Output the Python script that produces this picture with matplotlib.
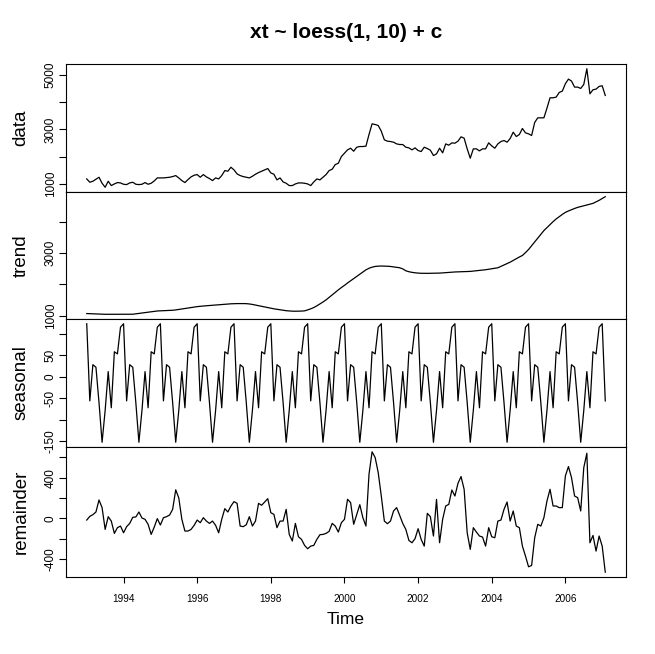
import numpy as np
import matplotlib
matplotlib.use("Agg")
import matplotlib.pyplot as plt

plt.rcParams['font.family'] = ['Liberation Sans', 'DejaVu Sans']

# monthly series, Jan 1993 .. Feb 2007
start_year = 1993
freq = 12

data = [1184, 1062, 1099, 1172, 1245, 1025, 878, 1099, 940, 1000,
        1050, 1037, 988, 976, 1037, 1062, 988, 976, 988, 1050,
        988, 1025, 1111, 1221, 1221, 1221, 1233, 1245, 1270, 1307,
        1221, 1123, 1050, 1160, 1258, 1319, 1343, 1245, 1343, 1258,
        1197, 1123, 1221, 1184, 1307, 1490, 1466, 1613, 1515, 1368,
        1307, 1270, 1245, 1221, 1282, 1356, 1417, 1466, 1515, 1564,
        1405, 1356, 1148, 1221, 1074, 1025, 940, 940, 1000, 1037,
        1037, 1025, 1000, 940, 1074, 1184, 1148, 1245, 1343, 1490,
        1540, 1711, 1760, 2005, 2128, 2250, 2311, 2201, 2348, 2373,
        2373, 2385, 2814, 3206, 3181, 3144, 2936, 2618, 2569, 2556,
        2532, 2470, 2446, 2446, 2348, 2323, 2250, 2323, 2226, 2189,
        2348, 2299, 2238, 2042, 2103, 2311, 2140, 2470, 2421, 2507,
        2495, 2569, 2728, 2679, 2287, 1944, 2287, 2287, 2213, 2287,
        2287, 2507, 2397, 2311, 2470, 2556, 2593, 2532, 2667, 2899,
        2740, 2814, 3034, 2875, 2838, 2777, 3255, 3426, 3426, 3426,
        3781, 4161, 4161, 4186, 4357, 4406, 4676, 4847, 4774, 4553,
        4553, 4504, 4651, 5227, 4308, 4455, 4480, 4578, 4602, 4247]

trend = [1064, 1060, 1055, 1050, 1045,
         1041, 1040, 1040, 1040, 1040, 1040, 1041, 1041, 1042, 1042, 1042,
         1055, 1068, 1080, 1095, 1108, 1120, 1133, 1146,
         1150, 1155, 1160, 1165, 1169,
         1180, 1195, 1210, 1223,
         1240, 1255, 1270, 1285, 1296,
         1305, 1313, 1320, 1330, 1337,
         1345, 1352, 1360, 1368, 1375, 1380,
         1382, 1383, 1382, 1380,
         1370, 1355, 1335, 1315, 1295, 1275,
         1255, 1235, 1215, 1200,
         1185, 1170, 1155, 1146,
         1140, 1138, 1140, 1143, 1150,
         1180, 1215, 1255,
         1310, 1370, 1433, 1500, 1580,
         1660, 1740, 1820, 1895, 1964,
         2040, 2110, 2180, 2250, 2320, 2390,
         2460, 2510, 2545, 2568,
         2578, 2582, 2580, 2575, 2568,
         2555, 2540, 2526, 2490, 2430,
         2400, 2380, 2366, 2356,
         2350, 2348, 2348, 2350, 2352, 2354, 2356,
         2362, 2370, 2378, 2386, 2392,
         2396, 2400, 2404, 2407, 2410,
         2420, 2430, 2442, 2453, 2463,
         2478, 2494, 2510, 2526,
         2570, 2615, 2660, 2705,
         2760, 2815, 2870, 2919,
         3010, 3110, 3230, 3350,
         3470, 3590, 3714, 3810,
         3910, 4000, 4086,
         4160, 4230, 4296,
         4340, 4380, 4420, 4455,
         4480, 4505, 4530, 4555, 4583,
         4630, 4680, 4740, 4796]

# periodic seasonal component, Jan..Dec
seasonal_pattern = [123, -56, 28, 22, -60, -152, -78, 12, -72, 58, 53, 115]

remainder = [-17, 19, 36, 62, 180, 105, -109, 16, -27, -148,
             -92, -76, -142, -82, -50, 10, 13, 62, 3, -10,
             -59, -158, -86, -3, -66, 6, 16, 32, 88, 280,
             200, -10, -125, -125, -109, -69, -17, -43, 6, -27,
             -50, -27, -69, -142, -10, 95, 62, 121, 164, 147,
             -76, -82, -63, 16, -76, -27, 147, 128, 160, 193,
             55, 39, -92, -27, -27, 88, -158, -223, -50, -181,
             -207, -266, -299, -273, -266, -207, -161, -158, -148, -128,
             -50, -76, -135, -43, -10, 187, 154, -59, 39, 134,
             6, -76, 433, 653, 597, 449, 219, -27, -53, -27,
             72, 105, 29, -50, -109, -217, -240, -200, -102, -207,
             -273, 49, 16, -174, 186, -240, -10, 121, 137, 278,
             219, 344, 410, 285, -142, -305, -92, -135, -174, -184,
             -273, -92, -181, -191, -27, -17, 88, 160, -27, 72,
             -76, -92, -273, -371, -476, -463, -191, -59, -76, 6,
             170, 285, 121, 121, 105, 105, 416, 508, 400, 219,
             203, 72, 498, 639, -240, -168, -322, -174, -273, -529]

n = len(data)
assert len(trend) == n and len(remainder) == n
seasonal = np.resize(seasonal_pattern, n)
t = start_year + np.arange(n) / freq

panel_names = ['data', 'trend', 'seasonal', 'remainder']
panel_values = [data, trend, seasonal, remainder]
panel_ticks = [[1000, 2000, 3000, 4000, 5000],
               [1000, 2000, 3000, 4000],
               [-150, -100, -50, 0, 50, 100],
               [-400, -200, 0, 200, 400, 600]]
panel_ticklabels = [['1000', '', '3000', '', '5000'],
                    ['1000', '', '3000', ''],
                    ['-150', '', '-50', '0', '50', ''],
                    ['-400', '', '0', '', '400', '']]
year_ticks = [1994, 1996, 1998, 2000, 2002, 2004, 2006]

W, H = 655, 654
fig = plt.figure(figsize=(W / 100, H / 100), dpi=100)

left, right = 66, 626
tops = [64, 192, 319, 447]
bottoms = [192, 319, 447, 577]

for k in range(4):
    ax = fig.add_axes([left / W, 1 - bottoms[k] / H,
                       (right - left) / W, (bottoms[k] - tops[k]) / H])
    ax.plot(t, panel_values[k], color='black', lw=0.9)
    ax.margins(x=0.04, y=0.04)
    for sp in ax.spines.values():
        sp.set_linewidth(0.8)
    ax.set_yticks(panel_ticks[k])
    ax.set_yticklabels(panel_ticklabels[k], rotation=90, va='center',
                       fontsize=8.5)
    ax.tick_params(axis='y', direction='out', length=5, width=0.8, pad=1.5)
    if k < 3:
        ax.set_xticks([])
    else:
        ax.set_xticks(year_ticks)
        ax.set_xticklabels([str(y) for y in year_ticks], fontsize=7.2)
        ax.tick_params(axis='x', direction='out', length=4.5, width=0.8,
                       pad=7.5)
    yc = 1 - (tops[k] + bottoms[k]) / 2 / H
    fig.text(21 / W, yc, panel_names[k], rotation=90, ha='center',
             va='center', fontsize=13.5)

fig.text((left + right) / 2 / W, 1 - 32 / H, 'xt ~ loess(1, 10) + c',
         ha='center', va='center', fontsize=15, fontweight='bold')
fig.text((left + right) / 2 / W, 1 - 620 / H, 'Time', ha='center',
         va='center', fontsize=12.5)

fig.savefig('out.png', dpi=100, facecolor='white')
